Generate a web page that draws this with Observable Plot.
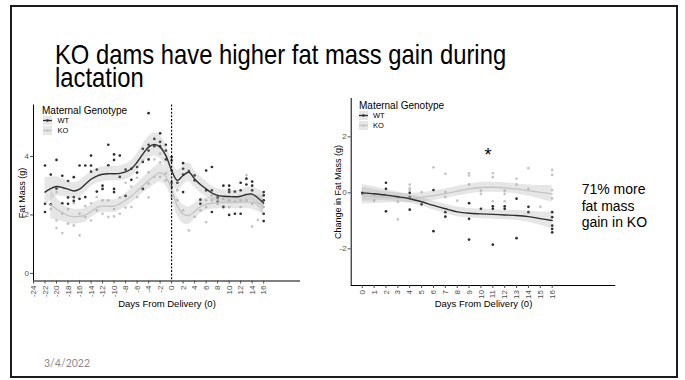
<!DOCTYPE html>
<html><head><meta charset="utf-8">
<script src="https://cdn.jsdelivr.net/npm/d3@7"></script>
<script src="https://cdn.jsdelivr.net/npm/@observablehq/plot@0.6"></script>
<style>
html,body{margin:0;padding:0;background:#fff;}
#slide{position:relative;width:685px;height:380px;overflow:hidden;font-family:"Liberation Sans",Arial,sans-serif;background:#fff;}
#frame{position:absolute;left:10px;top:5px;width:668px;height:373px;box-sizing:border-box;border:2.5px solid #1b1b1b;}
#title{position:absolute;left:55px;top:42.8px;font-size:28px;line-height:23px;transform:scaleX(0.85);transform-origin:0 0;white-space:pre;color:#000;}
#leftChart{position:absolute;left:0;top:95px;}
#rightChart{position:absolute;left:320px;top:90px;}
#note{position:absolute;left:581.7px;top:180.8px;font-size:14px;line-height:16.7px;color:#000;white-space:pre;}
#date{position:absolute;left:44px;top:357px;font-family:Lato,"Open Sans",sans-serif;font-size:10.5px;line-height:12px;color:#8a8a8a;}
.legend{position:absolute;}
</style>
</head><body>
<div id="slide">
  <div id="frame"></div>
  <div id="title"></div>
  <div id="leftChart"></div>
  <div id="rightChart"></div>
  <div id="note"></div>
  <div id="date"></div>
</div>
<script>
// ---------- text ----------
const titleLines = ["KO dams have higher fat mass gain during", "lactation"];
const noteLines = ["71% more", "fat mass", "gain in KO"];
const dateText = "3/4/2022";
const legendTitle = "Maternal Genotype";
const genotypes = ["WT", "KO"];
const xTitle = "Days From Delivery (0)";
const leftYTitle = "Fat Mass (g)";
const rightYTitle = "Change in Fat Mass (g)";

// ---------- ticks ----------
const leftXTicks = [-24,-22,-20,-18,-16,-14,-12,-10,-8,-6,-4,-2,0,2,4,6,8,10,12,14,16];
const leftYTicks = [0, 2, 4];
const rightXTicks = [0,1,2,3,4,5,6,7,8,9,10,11,12,13,14,15,16];
const rightYTicks = [-2, 0, 2];

// ---------- left chart: fat mass (g) ----------
const leftDays = [-22,-21,-20,-19,-18,-17,-16,-15,-14,-13,-12,-11,-10,-9,-8,-7,-6,-5,-4,-3,-2,-1,0,1,2,3,4,5,6,7,8,9,10,11,12,13,14,15,16];
const wtLeftFit = [2.78,2.90,2.97,2.94,2.88,2.82,2.88,3.05,3.22,3.33,3.39,3.41,3.41,3.42,3.47,3.58,3.80,4.08,4.32,4.41,4.32,4.03,3.52,3.18,3.35,3.46,3.23,3.04,2.89,2.75,2.67,2.64,2.63,2.62,2.64,2.70,2.71,2.58,2.40];
const wtLeftSe  = [0.50,0.40,0.33,0.30,0.28,0.28,0.28,0.27,0.26,0.25,0.25,0.25,0.25,0.25,0.26,0.27,0.29,0.32,0.36,0.40,0.40,0.38,0.36,0.35,0.33,0.32,0.30,0.28,0.26,0.24,0.22,0.21,0.21,0.21,0.21,0.22,0.25,0.30,0.38];
const koLeftDays = [-21,-20,-19,-18,-17,-16,-15,-14,-13,-12,-11,-10,-9,-8,-7,-6,-5,-4,-3,-2,-1,0,1,2,3,4,5,6,7,8,9,10,11,12,13,14,15,16];
const koLeftFit = [2.35,2.20,2.08,1.98,1.94,1.95,1.99,2.12,2.25,2.30,2.30,2.30,2.38,2.50,2.65,2.82,3.00,3.17,3.33,3.45,3.32,2.85,2.30,2.03,1.98,2.12,2.28,2.36,2.40,2.42,2.42,2.42,2.42,2.43,2.44,2.43,2.40,2.33];
const koLeftSe  = [0.50,0.38,0.30,0.27,0.25,0.24,0.23,0.22,0.22,0.22,0.22,0.22,0.22,0.23,0.24,0.25,0.26,0.28,0.30,0.32,0.32,0.32,0.32,0.32,0.30,0.27,0.24,0.22,0.21,0.21,0.21,0.21,0.21,0.21,0.22,0.24,0.28,0.33];

const wtLeftPts = [[-22,3.69],[-22,2.38],[-22,2.10],[-21,3.38],[-21,2.36],[-20,3.88],[-20,2.9],[-19,3.34],[-19,2.4],
 [-18,3.16],[-18,2.6],[-18,2.38],[-17,3.29],[-17,2.61],[-17,2.48],[-16,3.69],[-16,2.55],[-15,3.69],[-15,2.61],
 [-14,4.03],[-14,3.69],[-14,3.48],[-13,3.55],[-13,2.8],[-12,3.0],[-12,2.89],[-11,4.4],[-11,3.7],
 [-10,4.07],[-10,3.88],[-10,2.89],[-10,2.78],[-9,4.03],[-9,3.3],[-8,3.55],[-8,2.65],[-7,3.58],[-7,3.2],[-6,3.64],[-6,3.45],
 [-5,4.26],[-5,3.81],[-5,2.89],[-4,5.48],[-4,4.4],[-4,4.2],[-4,3.9],[-3,4.6],[-3,4.35],[-2,4.79],[-2,4.5],[-2,4.35],
 [-1,4.4],[-1,4.2],[-1,3.9],[0,3.98],[0,3.86],[0,3.52],[0,3.1],[0,2.95],[1,3.1],[2,3.77],[2,3.58],[2,3.38],[2,2.78],
 [3,3.5],[4,3.35],[4,3.18],[5,2.52],[5,2.38],[6,3.52],[6,2.84],[7,3.64],[7,2.84],[7,2.1],[8,2.6],[8,2.44],[9,3.0],[9,2.27],
 [10,3.0],[10,2.86],[10,2.78],[10,2.0],[11,2.8],[11,2.04],[12,3.1],[12,2.84],[12,2.04],[13,3.24],[13,3.04],
 [14,3.14],[14,3.0],[14,2.84],[16,2.78],[16,2.67],[16,2.5],[16,2.04],[16,1.79]];
const koLeftPts = [[-21,2.2],[-20,2.78],[-20,1.81],[-20,1.55],[-19,2.04],[-19,1.38],[-18,2.2],[-18,1.7],[-17,1.64],[-17,2.4],
 [-16,2.04],[-16,1.3],[-15,1.93],[-15,2.3],[-14,1.81],[-14,2.4],[-13,2.16],[-13,2.61],[-12,2.04],[-12,2.5],[-11,1.93],[-11,2.5],
 [-10,1.95],[-10,2.2],[-9,2.04],[-9,2.6],[-8,2.25],[-8,3.1],[-7,2.27],[-7,2.97],[-6,2.61],[-6,3.27],[-5,2.89],[-5,3.86],
 [-4,3.07],[-4,3.46],[-4,2.6],[-3,3.3],[-3,3.9],[-2,3.3],[-2,3.8],[-2,4.1],[-1,3.42],[-1,3.18],[0,3.12],[0,2.95],[0,2.61],
 [1,2.84],[1,2.5],[2,2.16],[3,1.47],[4,1.93],[5,2.16],[5,2.39],[6,2.27],[6,2.5],[6,1.75],[7,2.5],[7,2.67],[8,2.38],[8,2.52],
 [9,2.55],[9,2.3],[10,2.5],[10,2.27],[11,2.45],[12,2.5],[12,2.27],[13,3.36],[13,2.5],[14,1.6],[14,2.38],[15,1.83],[16,2.5],[16,2.27]];

// ---------- right chart: change in fat mass (g) ----------
const rightDays = [0,1,2,3,4,5,6,7,8,9,10,11,12,13,14,15,16];
const wtRightFit = [0.00,-0.03,-0.08,-0.14,-0.21,-0.32,-0.45,-0.57,-0.68,-0.73,-0.75,-0.77,-0.79,-0.81,-0.85,-0.92,-0.99];
const wtRightSe  = [0.30,0.25,0.20,0.17,0.15,0.15,0.16,0.17,0.17,0.17,0.17,0.17,0.17,0.18,0.20,0.24,0.30];
const koRightFit = [-0.10,-0.13,-0.16,-0.18,-0.19,-0.16,-0.10,-0.03,0.06,0.14,0.19,0.20,0.18,0.14,0.08,0.02,-0.04];
const koRightSe  = [0.30,0.25,0.20,0.17,0.16,0.16,0.17,0.17,0.17,0.18,0.18,0.18,0.18,0.18,0.20,0.24,0.30];
const wtRightPts = [[0,0],[2,0.36],[2,0.14],[2,-0.66],[4,0.0],[4,-0.15],[4,-0.6],[5,-0.41],[6,0.1],[6,-1.37],[7,-0.69],[7,-0.85],
 [9,-0.37],[9,-0.93],[9,-1.67],[10,-0.57],[11,-0.48],[11,-0.57],[11,-1.85],[12,-0.48],[12,-0.57],[13,-0.21],[13,-1.62],
 [14,-0.5],[14,-0.69],[16,-0.69],[16,-0.87],[16,-1.17],[16,-1.29],[16,-1.41]];
const koRightPts = [[0,-0.05],[1,-0.1],[1,-0.28],[3,-0.15],[3,-0.32],[3,-0.95],[4,0.29],[4,0.16],[4,0.1],[5,0.03],[6,0.91],
 [7,0.68],[7,0.03],[7,-0.15],[8,-0.28],[9,0.7],[9,0.62],[9,0.3],[10,0.08],[10,-0.04],[11,0.7],[11,0.56],[11,-0.3],
 [12,0.08],[12,-0.04],[12,-0.3],[13,0.5],[13,0.3],[14,0.88],[14,0.14],[15,-0.5],[16,0.82],[16,0.64],[16,0.1],[16,-0.2]];
const sigMark = [{day: 10.6, value: 1.33, label: "*"}];

// ---------- style ----------
const FONT = '"Liberation Sans", Arial, sans-serif';
const WT_COL = "#2e2e2e", KO_COL = "#c4c4c4", RIB = "#9a9a9a", RIB_OP = 0.25, AXC = "#4d4d4d";
const rows = (days, fit, se) => days.map((d, i) => ({day: d, fit: fit[i], lo: fit[i] - se[i], hi: fit[i] + se[i]}));

function groupMarks(wtRows, koRows, wtPts, koPts) {
  return [
    Plot.dot(koPts, {x: d => d[0], y: d => d[1], r: 1.35, fill: KO_COL}),
    Plot.dot(wtPts, {x: d => d[0], y: d => d[1], r: 1.35, fill: WT_COL}),
    Plot.areaY(koRows, {x: "day", y1: "lo", y2: "hi", fill: RIB, fillOpacity: RIB_OP, curve: "catmull-rom"}),
    Plot.areaY(wtRows, {x: "day", y1: "lo", y2: "hi", fill: RIB, fillOpacity: RIB_OP, curve: "catmull-rom"}),
    Plot.line(koRows, {x: "day", y: "fit", stroke: KO_COL, strokeWidth: 1.3, curve: "catmull-rom"}),
    Plot.line(wtRows, {x: "day", y: "fit", stroke: WT_COL, strokeWidth: 1.4, curve: "catmull-rom"})
  ];
}

document.getElementById("title").textContent = titleLines.join("\n");
document.getElementById("note").textContent = noteLines.join("\n");
document.getElementById("date").textContent = dateText;

const leftX = [-24, 22.4], leftY = [-0.26, 5.76];
const leftPlot = Plot.plot({
  width: 310, height: 225,
  marginLeft: 33, marginRight: 10, marginTop: 9.5, marginBottom: 39.5,
  style: {fontFamily: FONT, background: "transparent", overflow: "visible"},
  x: {domain: leftX},
  y: {domain: leftY},
  marks: [
    ...groupMarks(rows(leftDays, wtLeftFit, wtLeftSe), rows(koLeftDays, koLeftFit, koLeftSe), wtLeftPts, koLeftPts),
    Plot.ruleX([0], {stroke: "#000", strokeWidth: 1.1, strokeDasharray: "2,1.6"}),
    Plot.ruleX([leftX[0]], {stroke: "#000", strokeWidth: 1}),
    Plot.ruleY([leftY[0]], {stroke: "#000", strokeWidth: 1}),
    Plot.axisY({ticks: leftYTicks, tickSize: 3, tickPadding: 1.5, fontSize: 8, color: AXC, label: null, tickFormat: d => String(d)}),
    Plot.axisX({ticks: leftXTicks, tickSize: 3, tickPadding: 1.5, tickRotate: -90, textAnchor: "end", lineAnchor: "middle", fontSize: 8, color: AXC, label: null, tickFormat: d => String(d)}),
    Plot.text([leftYTitle], {text: d => d, frameAnchor: "left", rotate: -90, textAnchor: "middle", lineAnchor: "middle", dx: -11, fontSize: 9, fill: "#000"}),
    Plot.text([xTitle], {text: d => d, frameAnchor: "bottom", textAnchor: "middle", lineAnchor: "middle", dy: 23, fontSize: 9.5, fill: "#000"})
  ]
});
document.getElementById("leftChart").appendChild(leftPlot);

const rightX = [-0.93, 21.36], rightY = [-3.31, 3.37];
const rightPlot = Plot.plot({
  width: 300, height: 230,
  marginLeft: 30.7, marginRight: 4.7, marginTop: 8, marginBottom: 35,
  style: {fontFamily: FONT, background: "transparent", overflow: "visible"},
  x: {domain: rightX},
  y: {domain: rightY},
  marks: [
    ...groupMarks(rows(rightDays, wtRightFit, wtRightSe), rows(rightDays, koRightFit, koRightSe), wtRightPts, koRightPts),
    Plot.ruleX([rightX[0]], {stroke: "#000", strokeWidth: 1}),
    Plot.ruleY([rightY[0]], {stroke: "#000", strokeWidth: 1}),
    Plot.axisY({ticks: rightYTicks, tickSize: 3, tickPadding: 1.5, fontSize: 8, color: AXC, label: null, tickFormat: d => String(d)}),
    Plot.axisX({ticks: rightXTicks, tickSize: 3, tickPadding: 1.5, tickRotate: -90, textAnchor: "end", lineAnchor: "middle", fontSize: 8, color: AXC, label: null, tickFormat: d => String(d)}),
    Plot.text(sigMark, {x: "day", y: "value", text: "label", fontSize: 18, fill: "#000"}),
    Plot.text([rightYTitle], {text: d => d, frameAnchor: "left", rotate: -90, textAnchor: "middle", lineAnchor: "middle", dx: -13, fontSize: 9, fill: "#000"}),
    Plot.text([xTitle], {text: d => d, frameAnchor: "bottom", textAnchor: "middle", lineAnchor: "middle", dy: 18, fontSize: 9.5, fill: "#000"})
  ]
});
document.getElementById("rightChart").appendChild(rightPlot);

// ---------- legends (inside panels, top-left) ----------
function legend(left, top, keyX, labelX) {
  const NS = "http://www.w3.org/2000/svg";
  const svg = document.createElementNS(NS, "svg");
  svg.setAttribute("width", 110); svg.setAttribute("height", 40);
  svg.setAttribute("class", "legend");
  svg.style.left = left + "px"; svg.style.top = top + "px";
  svg.style.fontFamily = FONT;
  const t = document.createElementNS(NS, "text");
  t.setAttribute("x", 0); t.setAttribute("y", 9); t.setAttribute("font-size", 10); t.textContent = legendTitle;
  svg.appendChild(t);
  genotypes.forEach((g, i) => {
    const cy = 15.5 + i * 10;
    const col = g === "WT" ? WT_COL : KO_COL;
    const r = document.createElementNS(NS, "rect");
    r.setAttribute("x", keyX); r.setAttribute("y", cy - 4.5); r.setAttribute("width", 9); r.setAttribute("height", 9);
    r.setAttribute("fill", RIB); r.setAttribute("fill-opacity", RIB_OP);
    svg.appendChild(r);
    const l = document.createElementNS(NS, "line");
    l.setAttribute("x1", keyX); l.setAttribute("x2", keyX + 9); l.setAttribute("y1", cy); l.setAttribute("y2", cy);
    l.setAttribute("stroke", col); l.setAttribute("stroke-width", 1.3);
    svg.appendChild(l);
    const c = document.createElementNS(NS, "circle");
    c.setAttribute("cx", keyX + 4.5); c.setAttribute("cy", cy); c.setAttribute("r", 1.35); c.setAttribute("fill", col);
    svg.appendChild(c);
    const tx = document.createElementNS(NS, "text");
    tx.setAttribute("x", labelX); tx.setAttribute("y", cy + 2.6); tx.setAttribute("font-size", 7.5); tx.setAttribute("fill", "#000");
    tx.textContent = g;
    svg.appendChild(tx);
  });
  document.getElementById("slide").appendChild(svg);
}
legend(42.3, 104.7, 1, 15.4);
legend(359.3, 99.5, 0, 14);
</script>
</body></html>
